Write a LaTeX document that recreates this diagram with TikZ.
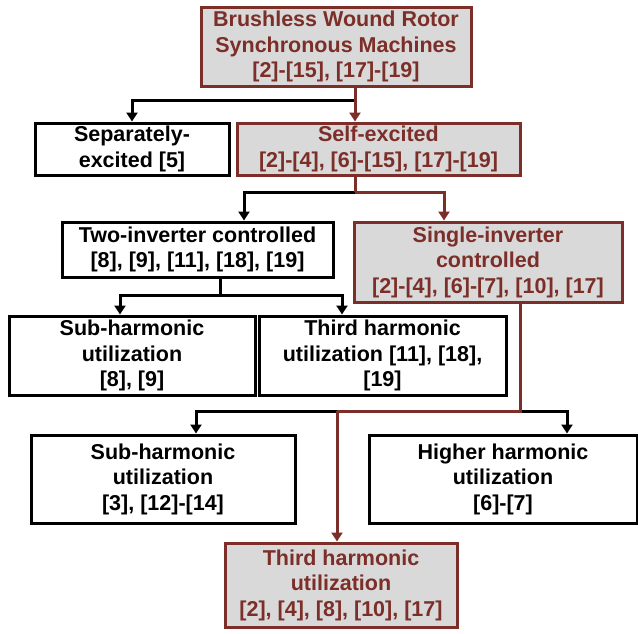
\documentclass[tikz,border=0pt]{standalone}
\usepackage{fontspec}
\setmainfont{Liberation Sans}
\usetikzlibrary{arrows.meta}
\definecolor{brick}{RGB}{124,46,40}
\definecolor{boxgray}{RGB}{217,217,217}
\begin{document}
\begin{tikzpicture}[x=1pt,y=-1pt,
  box/.style={draw=black, line width=3pt, fill=white, align=center,
    font=\bfseries\fontsize{21.5}{25.5}\selectfont, inner sep=0pt},
  hot/.style={box, draw=brick, fill=boxgray, text=brick},
  conn/.style={line width=3pt, draw=black},
  hotconn/.style={conn, draw=brick},
  arr/.style={-{Triangle[length=9pt,width=11pt]}}]
\useasboundingbox (0,0) rectangle (638,633);
% boxes
\node[hot, minimum width=270, minimum height=79] (top) at (336,46.5) {Brushless Wound Rotor\\Synchronous Machines\\{}[2]-[15], [17]-[19]};
\node[box, minimum width=194, minimum height=52] (sep) at (132,149) {Separately-\\excited [5]};
\node[hot, minimum width=283, minimum height=52] (self) at (378.5,149) {Self-excited\\{}[2]-[4], [6]-[15], [17]-[19]};
\node[box, minimum width=271, minimum height=55] (two) at (197.5,249.5) {Two-inverter controlled\\{}[8], [9], [11], [18], [19]};
\node[hot, minimum width=268, minimum height=80] (single) at (488,262) {Single-inverter\\controlled\\{}[2]-[4], [6]-[7], [10], [17]};
\node[box, minimum width=246, minimum height=79] (subA) at (132,355.5) {Sub-harmonic\\utilization\\{}[8], [9]};
\node[box, minimum width=247, minimum height=79] (thirdA) at (382.5,355.5) {Third harmonic\\utilization [11], [18],\\{}[19]};
\node[box, minimum width=264, minimum height=88] (subB) at (163,479) {Sub-harmonic\\utilization\\{}[3], [12]-[14]};
\node[box, minimum width=268, minimum height=88] (higher) at (503,479) {Higher harmonic\\utilization\\{}[6]-[7]};
\node[hot, minimum width=232, minimum height=84] (thirdB) at (341,585) {Third harmonic\\utilization\\{}[2], [4], [8], [10], [17]};
% junction coordinates
\coordinate (j1) at (355,100);
\coordinate (j1l) at (132,100);
\coordinate (j2) at (355,192);
\coordinate (j2l) at (244,192);
\coordinate (j2r) at (444,192);
\coordinate (j3) at (220,295);
\coordinate (j3l) at (120,295);
\coordinate (j3r) at (342,295);
\coordinate (j4) at (520,411);
\coordinate (j4l) at (196,411);
\coordinate (j4m) at (337,411);
\coordinate (j4r) at (567,411);
% level 1
\draw[conn, arr] (j1) -- (j1l) -- (j1l |- sep.north);
\draw[hotconn] (j1 |- top.south) -- (j1);
\draw[hotconn, arr] (j1) -- (j1 |- self.north);
% level 2
\draw[conn, arr] (j2) -- (j2l) -- (j2l |- two.north);
\draw[hotconn] (j2 |- self.south) -- (j2);
\draw[hotconn, arr] (j2) -- (j2r) -- (j2r |- single.north);
% level 3
\draw[conn] (j3 |- two.south) -- (j3);
\draw[conn, arr] (j3) -- (j3l) -- (j3l |- subA.north);
\draw[conn, arr] (j3) -- (j3r) -- (j3r |- thirdA.north);
% level 4
\draw[conn, arr] (j4m) -- (j4l) -- (j4l |- subB.north);
\draw[conn, arr] (j4) -- (j4r) -- (j4r |- higher.north);
\draw[hotconn] (j4 |- single.south) -- (j4) -- (j4m);
\draw[hotconn, arr] (j4m) -- (j4m |- thirdB.north);
\end{tikzpicture}
\end{document}
